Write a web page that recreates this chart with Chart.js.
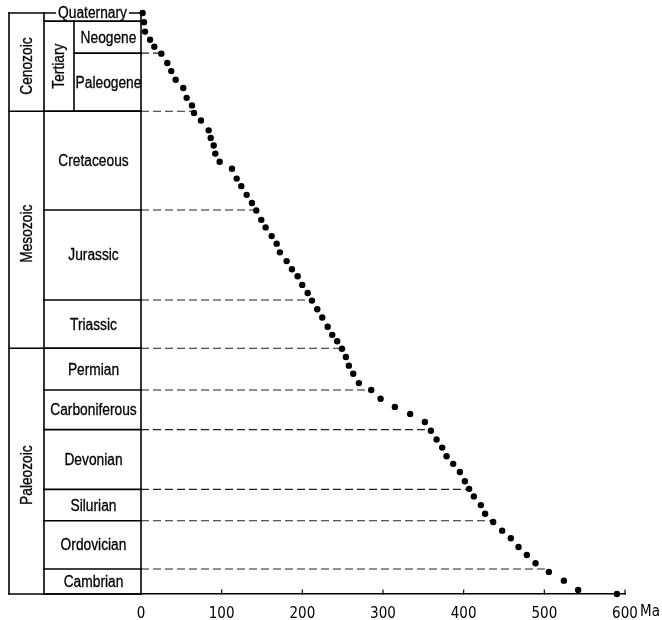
<!DOCTYPE html>
<html>
<head>
<meta charset="utf-8">
<script src="https://cdn.jsdelivr.net/npm/chart.js@4/dist/chart.umd.min.js"></script>
<style>
  html, body { margin: 0; padding: 0; background: #fff; }
  #wrap { width: 662px; height: 620px; }
</style>
</head>
<body>
<div id="wrap"><canvas id="chart" width="662" height="620"></canvas></div>
<script>
// Age of each point (Ma) and its relative stratigraphic level (0 = top, 100 = base)
const ages = [2, 3.7, 5, 11.2, 16.5, 25.2, 32.6, 37.5, 43, 52.4, 56.6, 63.2, 65.7, 74.3, 83.9,
  86.4, 90.1, 92.1, 97.5, 112.8, 118.6, 124.3, 131, 137.5, 142.9, 149.1, 154.5, 162, 168.2,
  172.2, 180.5, 187.1, 194.2, 199.9, 206.6, 211.9, 218.5, 224.7, 231.4, 237.1, 243.2, 249.1,
  254, 257.7, 263.1, 270.1, 285.4, 297, 314.7, 333.7, 351.9, 359.4, 366.4, 373.4, 378.8, 387,
  395.3, 401.5, 406.8, 412.6, 421.3, 426.6, 436.6, 447.7, 458.5, 468, 478.3, 489.1, 505.6,
  524.2, 541.9, 590];
const levels = [0, 1.6, 3.2, 4.6, 5.8, 7, 8.6, 10, 11.5, 12.9, 14.6, 15.9, 17.2, 18.5, 20.2,
  21.5, 22.8, 24.2, 25.6, 26.8, 28.5, 29.8, 31.3, 32.7, 34, 35.6, 36.9, 38.4, 39.7,
  41.2, 42.7, 44.1, 45.3, 46.8, 48.2, 49.5, 51, 52.4, 54, 55.4, 56.5, 57.8,
  59.2, 60.7, 62.1, 63.7, 64.9, 66.4, 67.8, 69, 70.4, 71.9, 73.4, 74.8, 76.3, 77.6,
  79, 80.6, 81.9, 83.2, 84.7, 86.2, 87.6, 89.1, 90.4, 91.9, 93.3, 94.7, 96.2,
  97.7, 99.3, 100];

// Boundaries that are carried across to the curve (level and age)
const boundaryLevels = [6.9, 16.9, 33.9, 49.4, 57.7, 64.9, 71.7, 82.0, 87.4, 95.7];
const boundaryAges   = [25, 65, 143, 212, 248, 286, 360, 407, 437, 505];

// Time-scale column
const eraNames = ['Cenozoic', 'Mesozoic', 'Paleozoic'];
const eraBounds = [0, 16.9, 57.7, 100];
const subEraName = 'Tertiary';
const subEraBounds = [1.4, 16.9];
const tertiaryNames = ['Neogene', 'Paleogene'];
const tertiaryBounds = [1.4, 6.9, 16.9];
const quaternaryName = 'Quaternary';
const periodNames = ['Cretaceous', 'Jurassic', 'Triassic', 'Permian', 'Carboniferous',
  'Devonian', 'Silurian', 'Ordovician', 'Cambrian'];
const periodBounds = [16.9, 33.9, 49.4, 57.7, 64.9, 71.7, 82.0, 87.4, 95.7, 100];

// Age axis
const xTicks = [0, 100, 200, 300, 400, 500, 600];
const xTickLabels = ['0', '100', '200', '300', '400', '500', '600'];
const xUnit = 'Ma';

const LABEL_FONT = '16px "Liberation Sans", Arial, sans-serif';
const LABEL_SQUEEZE = 0.86;   // condensed look for the table lettering
const TICK_FAMILY = '"DejaVu Sans Condensed", "Liberation Sans", sans-serif';
const TICK_SIZE = 15;
const TICK_PAD = 13;
const INK = '#000';

const dashedSets = boundaryLevels.map((lv, i) => ({
  type: 'line',
  data: [{ x: 0, y: lv }, { x: boundaryAges[i], y: lv }],
  borderColor: '#222',
  borderWidth: 1.1,
  borderDash: [8, 4],
  pointRadius: 0,
  fill: false,
  clip: false,
  order: 2
}));

const points = ages.map((a, i) => ({ x: a, y: levels[i] }));

// Draws the stratigraphic table, inward ticks and the axis unit
const strataTable = {
  id: 'strataTable',
  afterDraw(chart) {
    const { ctx, chartArea, scales } = chart;
    const y = scales.y, x = scales.x;
    const py = v => y.getPixelForValue(v);
    const X0 = 9, X1 = 44, X2 = 74, X3 = chartArea.left;
    const seg = (ax, ay, bx, by) => { ctx.beginPath(); ctx.moveTo(ax, ay); ctx.lineTo(bx, by); ctx.stroke(); };

    ctx.save();
    ctx.strokeStyle = INK;
    ctx.lineWidth = 1.6;
    ctx.lineCap = 'square';

    // vertical rules
    const top = py(eraBounds[0]), bottom = py(eraBounds[eraBounds.length - 1]);
    seg(X0, top, X0, bottom);
    seg(X1, top, X1, bottom);
    seg(X3, top, X3, bottom);
    seg(X2, py(tertiaryBounds[0]), X2, py(tertiaryBounds[tertiaryBounds.length - 1]));

    // horizontal rules
    eraBounds.forEach(b => seg(X0, py(b), X3, py(b)));
    periodBounds.forEach(b => seg(X1, py(b), X3, py(b)));
    seg(X1, py(tertiaryBounds[0]), X3, py(tertiaryBounds[0]));
    tertiaryBounds.slice(1).forEach(b => seg(X2, py(b), X3, py(b)));

    ctx.fillStyle = INK;
    ctx.font = LABEL_FONT;
    ctx.textAlign = 'center';
    ctx.textBaseline = 'middle';
    ctx.lineWidth = 0.3;
    ctx.lineJoin = 'round';

    const text = (t, cx, cy, rotate) => {
      ctx.save();
      ctx.translate(cx, cy);
      if (rotate) ctx.rotate(-Math.PI / 2);
      ctx.scale(LABEL_SQUEEZE, 1);
      ctx.fillText(t, 0, 0);
      ctx.strokeText(t, 0, 0);
      ctx.restore();
    };

    // Quaternary sits on the top rule
    const qx = (X1 + X3) / 2, qy = top;
    const qw = ctx.measureText(quaternaryName).width * LABEL_SQUEEZE;
    ctx.save();
    ctx.fillStyle = '#fff';
    ctx.fillRect(qx - qw / 2 - 2, qy - 5, qw + 4, 9);
    ctx.restore();
    text(quaternaryName, qx, qy + 1);

    // period names
    periodNames.forEach((n, i) => {
      text(n, (X1 + X3) / 2 + 1, (py(periodBounds[i]) + py(periodBounds[i + 1])) / 2 + 1);
    });
    tertiaryNames.forEach((n, i) => {
      text(n, (X2 + X3) / 2 + 1, (py(tertiaryBounds[i]) + py(tertiaryBounds[i + 1])) / 2 + 1);
    });

    // rotated era names
    eraNames.forEach((n, i) => text(n, (X0 + X1) / 2 + 1, (py(eraBounds[i]) + py(eraBounds[i + 1])) / 2 + 4, true));
    text(subEraName, (X1 + X2) / 2 + 1, (py(subEraBounds[0]) + py(subEraBounds[1])) / 2, true);

    // inward tick marks on the age axis
    ctx.lineWidth = 1.2;
    const yb = chartArea.bottom;
    xTicks.slice(1).forEach(t => seg(x.getPixelForValue(t), yb, x.getPixelForValue(t), yb - 4));

    // axis unit
    ctx.font = TICK_SIZE + 'px ' + TICK_FAMILY;
    ctx.textAlign = 'left';
    ctx.textBaseline = 'middle';
    ctx.fillText(xUnit, x.getPixelForValue(xTicks[xTicks.length - 1]) + 15, yb + TICK_PAD + 5.5);
    ctx.restore();
  }
};

new Chart(document.getElementById('chart'), {
  type: 'scatter',
  data: {
    datasets: [
      ...dashedSets,
      {
        type: 'scatter',
        data: points,
        pointRadius: 3.2,
        pointBackgroundColor: '#000',
        pointBorderWidth: 0,
        clip: false,
        order: 1
      }
    ]
  },
  options: {
    responsive: false,
    animation: false,
    events: [],
    layout: { padding: { left: 141, right: 37, top: 13, bottom: -15 } },
    plugins: { legend: { display: false }, tooltip: { enabled: false } },
    scales: {
      x: {
        type: 'linear',
        min: xTicks[0],
        max: xTicks[xTicks.length - 1],
        afterBuildTicks: s => { s.ticks = xTicks.map(v => ({ value: v })); },
        ticks: {
          callback: (v, i) => xTickLabels[i],
          color: INK,
          padding: TICK_PAD,
          maxRotation: 0,
          autoSkip: false,
          font: { family: TICK_FAMILY, size: TICK_SIZE, lineHeight: 1 }
        },
        grid: { display: true, drawOnChartArea: false, drawTicks: false },
        border: { display: true, color: INK, width: 1.6 }
      },
      y: {
        type: 'linear',
        display: false,
        min: 0,
        max: 100,
        reverse: true
      }
    }
  },
  plugins: [strataTable]
});
</script>
</body>
</html>
